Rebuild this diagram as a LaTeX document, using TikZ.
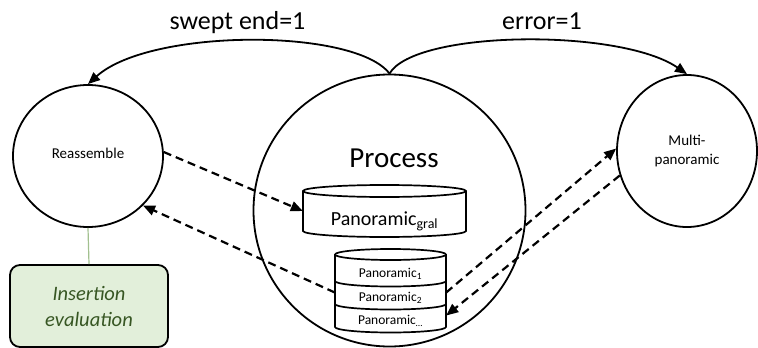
\documentclass[tikz,border=0pt]{standalone}
\usepackage{fontspec}
\setmainfont{Carlito}
\usetikzlibrary{arrows.meta,shapes.geometric}
\definecolor{evalfill}{HTML}{E2EFDA}
\definecolor{evaltext}{HTML}{375623}
\definecolor{evalline}{HTML}{A2C08F}
\newcommand{\fsz}[1]{\fontsize{#1}{1.25\dimexpr #1pt\relax}\selectfont}
\begin{document}
\begin{tikzpicture}[x=1pt,y=-1pt,
  state/.style={draw, line width=1.8pt, inner sep=0pt},
  flow/.style={line width=1.8pt, -{Triangle[length=12pt,width=10pt]}},
  link/.style={line width=2.2pt, dash pattern=on 8pt off 5pt,
               -{Triangle[length=12pt,width=10pt]}},
  db/.style={draw, line width=1.7pt, fill=white},
  body/.style={inner sep=0pt, minimum width=#1},
  body/.default=111pt,
]
\useasboundingbox (0,0) rectangle (758,348);

% states
\node[state, circle, minimum size=272pt] (proc) at (389.5,210.5) {};
\node[font=\fsz{29}, anchor=base] (proct) at (394,167) {Process};
\node[state, ellipse, minimum width=150pt, minimum height=142pt,
      font=\fsz{15}, text depth=6pt] (reas) at (88,156) {Reassemble};
\node[state, ellipse, minimum width=140pt, minimum height=152pt,
      font=\fsz{15}, align=center] (multi) at (687,151)
      {Multi-\\panoramic};

% general panoramic store
\path[db] (303,191) arc[start angle=180, end angle=360, x radius=81.5, y radius=6]
  -- (466,231) arc[start angle=0, end angle=180, x radius=81.5, y radius=6] -- cycle;
\draw[line width=1.7pt] (303,191)
  arc[start angle=180, end angle=0, x radius=81.5, y radius=6];
\node[body=163pt, minimum height=40pt] (gral) at (384.5,211) {};
\node[font=\fsz{20}, anchor=base] (gralt) at (384.5,225)
  {Panoramic\textsubscript{gral}};

% stack of partial panoramics
\path[db] (335,254.5) arc[start angle=180, end angle=360, x radius=55.5, y radius=5.5]
  -- (446,327) arc[start angle=0, end angle=180, x radius=55.5, y radius=5.5] -- cycle;
\foreach \yy in {254.5,281,304}
  \draw[line width=1.7pt] (335,\yy)
    arc[start angle=180, end angle=0, x radius=55.5, y radius=5.5];
\node[body, minimum height=21pt] (p1) at (390.5,271) {};
\node[body, minimum height=23pt] (p2) at (390.5,292.5) {};
\node[body, minimum height=23pt] (p3) at (390.5,315.5) {};
\node[font=\fsz{13.5}, anchor=base] (p1t) at (390.5,277) {Panoramic\textsubscript{1}};
\node[font=\fsz{13.5}, anchor=base] (p2t) at (390.5,301) {Panoramic\textsubscript{2}};
\node[font=\fsz{13.5}, anchor=base] (p3t) at (390.5,324) {Panoramic\textsubscript{\dots}};

% evaluation box
\node[draw, line width=1.8pt, rounded corners=10pt, fill=evalfill,
      minimum width=158pt, minimum height=82pt, text=evaltext,
      font=\itshape\fontsize{20.5}{26}\selectfont, align=center]
      (eval) at (89,306) {Insertion\\evaluation};
\draw[evalline, line width=1.2pt] (reas.south) -- (eval.north);

% transitions
\draw[flow] (proc.north) .. controls (355,28) and (150,28) .. (reas.north);
\draw[flow] (proc.north) .. controls (415,30) and (620,28) .. (multi.north);
\node[font=\fsz{26}, anchor=base] (lswept) at (237.5,29.5) {swept end=1};
\node[font=\fsz{26}, anchor=base] (lerr) at (542,29.5) {error=1};

% data exchanges
\draw[link] (reas.3) -- (gral.west);
\draw[link] (p2.west) -- (reas.-42);
\draw[link] (p2.east) -- (multi.178);
\draw[link] (multi.-160) -- (p3.east);
\end{tikzpicture}
\end{document}
